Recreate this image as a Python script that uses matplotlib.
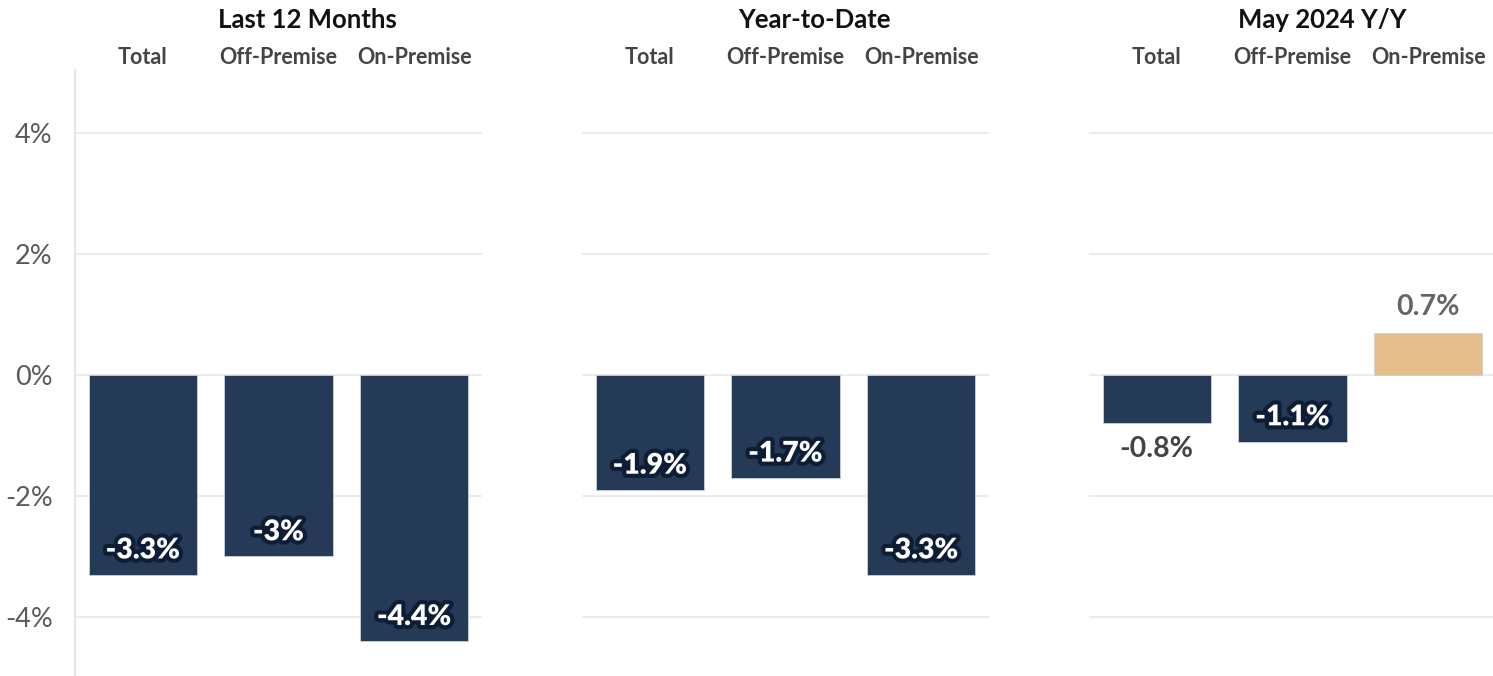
import matplotlib
matplotlib.use("Agg")
from matplotlib import pyplot as plt
import matplotlib.patheffects as pe

plt.rcParams['font.family'] = ['Lato', 'DejaVu Sans']

# data
panels = ['Last 12 Months', 'Year-to-Date', 'May 2024 Y/Y']
channels = ['Total', 'Off-Premise', 'On-Premise']
last12 = [-3.3, -3.0, -4.4]
ytd = [-1.9, -1.7, -3.3]
may_yy = [-0.8, -1.1, 0.7]
labels_last12 = ['-3.3%', '-3%', '-4.4%']
labels_ytd = ['-1.9%', '-1.7%', '-3.3%']
labels_may = ['-0.8%', '-1.1%', '0.7%']
yticks = [-4, -2, 0, 2, 4]
ytick_labels = ['-4%', '-2%', '0%', '2%', '4%']

NAVY = '#253a56'
TAN = '#e4bf8b'

fig = plt.figure(figsize=(14.93, 6.76), dpi=100)
lefts = [75/1493, 582/1493, 1089/1493]
width = 407/1493
top = (676-70)/676

all_vals = [last12, ytd, may_yy]
all_labels = [labels_last12, labels_ytd, labels_may]

for i in range(3):
	ax = fig.add_axes([lefts[i], 0, width, top])
	vals = all_vals[i]
	cols = [TAN if v > 0 else NAVY for v in vals]
	x = list(range(len(vals)))
	ax.bar(x, vals, width=0.8, color=cols, edgecolor='#c9d0da', linewidth=0.6, zorder=3)
	ax.set_xlim(-0.5, 2.5)
	ax.set_ylim(-4.975, 5.04)
	ax.set_yticks(yticks)
	for y in yticks:
		ax.axhline(y, color='#ececec', linewidth=1.5, zorder=1)
	for s in ['top', 'right', 'bottom']:
		ax.spines[s].set_visible(False)
	ax.set_xticks([])
	if i == 0:
		ax.set_yticklabels(ytick_labels, fontsize=19.5, color='#5a5a5a')
		ax.spines['left'].set_color('#e6e6e6')
		ax.spines['left'].set_linewidth(1.5)
		ax.tick_params(axis='y', length=0, pad=16)
	else:
		ax.spines['left'].set_visible(False)
		ax.set_yticks([])
	# headers
	ax.text(0.572, 1.083, panels[i], transform=ax.transAxes, ha='center', va='center',
		fontsize=18.5, fontweight='bold', color='#111111')
	for j, c in enumerate(channels):
		ax.text(j, 1.02, c, transform=ax.get_xaxis_transform(), ha='center', va='center',
			fontsize=15.5, fontweight='bold', color='#444444')
	# value labels
	for j, v in enumerate(vals):
		lab = all_labels[i][j]
		if v > 0:
			ax.text(j, v + 0.42, lab, ha='center', va='center', fontsize=20.5,
				fontweight='bold', color='#666666', zorder=4)
		elif v > -1.0:
			ax.text(j, v - 0.43, lab, ha='center', va='center', fontsize=20.5,
				fontweight='bold', color='#444444', zorder=4)
		else:
			t = ax.text(j, v + 0.4, lab, ha='center', va='center', fontsize=20.5,
				fontweight='heavy', color='white', zorder=4)
			t.set_path_effects([pe.withStroke(linewidth=6, foreground='#0e1d36')])

fig.savefig('out.png', dpi=100)
